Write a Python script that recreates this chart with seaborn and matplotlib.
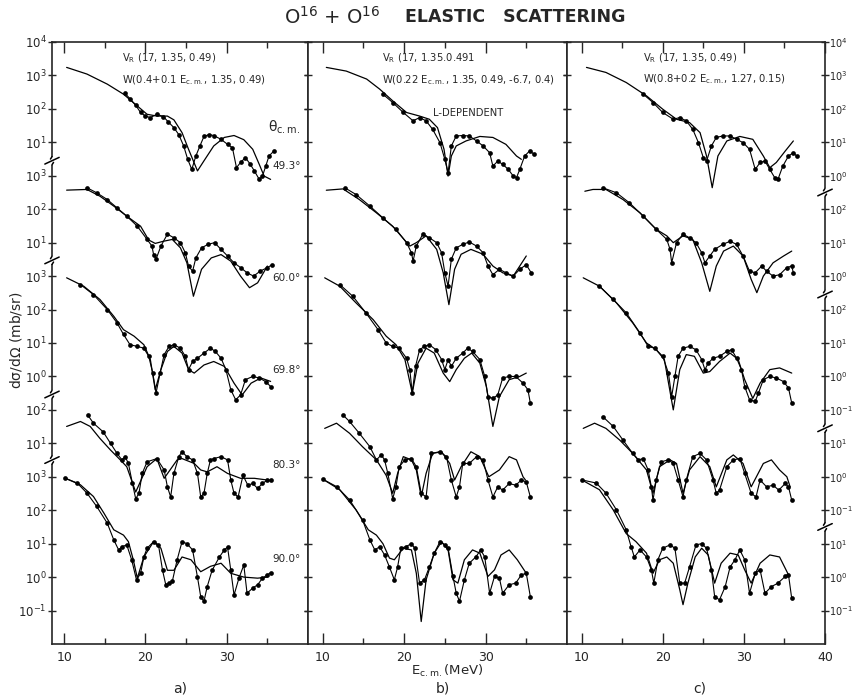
import numpy as np
import pandas as pd
import matplotlib
matplotlib.use("Agg")
import matplotlib.pyplot as plt
from matplotlib.ticker import NullLocator, FixedLocator
import seaborn as sns

# ---------------- data (E_cm in MeV, dsigma/dOmega in mb/sr) ----------------
# panel a
a49_thE = [10.3, 12.8, 15.3, 17.3, 19.0, 20.2, 21.4, 22.7, 23.5, 24.5, 25.3, 26.4, 27.2, 28.4, 29.7, 30.9, 32.1, 33.2, 34.0, 34.6, 35.4]
a49_th = [1740, 1100, 550, 275, 122, 69, 61, 61, 47, 19.5, 6.2, 1.4, 2.8, 7.8, 14, 16, 12, 6.2, 2.2, 0.98, 0.78]
a49_E = [17.5, 18.1, 18.8, 19.4, 20.0, 20.6, 21.4, 22.2, 22.8, 23.5, 24.1, 24.7, 25.2, 25.7, 26.2, 26.7, 27.2, 27.8, 28.4, 29.3, 30.1, 30.7, 31.2, 31.7, 32.3, 32.9, 33.4, 34.0, 34.4, 34.8, 35.2, 35.8]
a49_s = [290, 200, 128, 78, 61, 55, 69, 59, 41, 27.5, 17, 7.8, 3.1, 1.55, 3.9, 7.8, 15, 17, 16, 12.3, 8.7, 6.9, 1.75, 2.5, 3.5, 2.2, 1.4, 0.78, 0.98, 1.95, 3.9, 5.5]

a60_thE = [10.3, 12.8, 14.4, 16.1, 17.7, 19.4, 20.4, 21.2, 22.2, 23.3, 24.3, 25.1, 25.9, 26.9, 28.1, 29.3, 30.5, 31.7, 32.8, 33.8, 35.0]
a60_th = [372, 390, 245, 124, 62, 31, 12, 9.5, 11, 12.5, 7, 2.5, 0.25, 1.6, 3.5, 4.4, 2.8, 1.0, 0.45, 0.63, 2.0]
a60_E = [12.8, 14.0, 15.3, 16.5, 17.7, 19.0, 20.2, 20.8, 21.0, 21.3, 21.9, 22.7, 23.5, 24.3, 24.9, 25.3, 25.8, 26.2, 26.9, 27.7, 28.5, 29.3, 30.1, 30.9, 31.7, 32.5, 33.3, 34.1, 35.0, 35.6]
a60_s = [440, 310, 195, 110, 62, 31, 12.5, 7.9, 4.4, 3.2, 7.9, 18, 14, 10, 5, 2, 1.4, 3.5, 7, 8.9, 10, 6.3, 4, 2.5, 1.8, 1.26, 1.0, 1.4, 1.8, 2.2]

a70_thE = [10.3, 12.4, 14.4, 16.1, 17.3, 18.6, 19.8, 20.6, 21.2, 21.9, 22.7, 23.5, 24.5, 25.3, 26.0, 27.2, 28.4, 29.7, 30.9, 31.9, 33.0, 34.2, 35.4]
a70_th = [890, 500, 200, 63, 25, 16, 8.9, 3.2, 0.4, 1.6, 5.6, 7.9, 5, 1.6, 1.26, 2.2, 2.8, 2.0, 0.63, 0.28, 0.63, 0.9, 0.71]
a70_E = [12.0, 13.6, 15.3, 16.5, 17.3, 18.1, 19.0, 19.8, 20.4, 20.9, 21.3, 21.8, 22.3, 22.9, 23.5, 24.3, 24.9, 25.3, 25.8, 26.4, 27.2, 28.0, 28.6, 29.3, 29.9, 30.5, 31.1, 31.7, 32.3, 33.2, 34.0, 34.8, 35.4]
a70_s = [560, 280, 100, 40, 18, 8.9, 7.9, 7, 4, 1.26, 0.32, 1.26, 4.5, 7.9, 8.9, 7, 4, 1.6, 2.8, 3.5, 5, 7, 5.6, 3.5, 1.6, 0.4, 0.2, 0.28, 0.8, 1.0, 0.9, 0.7, 0.5]

a80_thE = [10.3, 12.0, 13.2, 14.4, 15.7, 16.9, 17.7, 18.8, 20.2, 21.4, 22.3, 23.9, 24.5, 26.0, 26.8, 27.6, 28.8, 30.1, 31.7, 33.4, 35.0]
a80_th = [32, 45, 32, 14, 6.3, 3.2, 2.0, 0.35, 2.0, 3.5, 0.9, 3.2, 3.5, 2.5, 1.6, 1.4, 2.0, 1.26, 0.9, 0.9, 0.8]
a80_E = [12.9, 13.6, 14.8, 15.7, 16.5, 17.1, 17.5, 17.9, 18.4, 18.8, 19.2, 19.6, 20.2, 21.4, 22.3, 22.7, 23.1, 23.5, 24.1, 24.5, 25.1, 25.8, 26.4, 26.8, 27.2, 27.6, 28.0, 28.4, 29.3, 30.1, 30.5, 30.9, 31.4, 32.0, 32.6, 33.2, 33.8, 34.4, 35.0, 35.5]
a80_s = [70, 40, 22, 10, 5, 3.2, 4, 2.5, 0.63, 0.22, 0.32, 1.26, 2.8, 3.5, 1.6, 0.5, 0.25, 1.26, 4, 5.6, 4, 3.2, 1.26, 0.25, 0.32, 1.26, 3.2, 3.5, 4, 3.2, 0.8, 0.32, 0.25, 1.1, 0.56, 0.63, 0.45, 0.63, 0.8, 0.78]

a90_thE = [10.1, 12.0, 13.6, 14.9, 16.1, 17.3, 17.9, 18.5, 19.0, 19.8, 21.0, 21.9, 22.7, 23.5, 24.5, 25.6, 26.8, 28.0, 29.3, 30.5, 32.1, 33.8, 35.0]
a90_th = [910, 575, 257, 81, 26, 18, 11.5, 3.3, 0.93, 4, 11.5, 7.3, 1.6, 1.6, 4, 3.3, 1.45, 2.1, 2.6, 1.3, 1.0, 0.93, 1.0]
a90_E = [10.1, 11.6, 12.8, 14.0, 15.3, 16.1, 16.7, 17.1, 17.7, 18.3, 18.9, 19.4, 19.8, 20.2, 21.0, 21.6, 22.1, 22.5, 22.9, 23.3, 23.9, 24.5, 25.1, 25.8, 26.4, 26.8, 27.2, 27.6, 28.2, 29.1, 29.7, 30.1, 30.5, 30.9, 31.5, 32.1, 32.5, 33.2, 33.8, 34.4, 35.0, 35.4]
a90_s = [910, 650, 325, 130, 41, 13, 6.5, 8.1, 9.2, 3.3, 0.82, 1.3, 4, 7.3, 11.5, 9.2, 1.6, 0.59, 0.66, 0.74, 3.3, 11.5, 10, 6.5, 1.0, 0.26, 0.19, 0.52, 1.6, 4, 6.5, 7.9, 1.6, 0.29, 0.93, 2.3, 0.33, 0.47, 0.59, 0.93, 1.17, 1.35]

# panel b
b49_thE = [10.45, 12.9, 15.4, 17.0, 18.6, 20.3, 21.9, 23.1, 24.1, 24.9, 25.4, 25.8, 26.4, 27.6, 29.3, 30.9, 32.5, 33.8, 34.4]
b49_th = [1740, 1350, 780, 390, 174, 78, 61, 49, 27.5, 6.2, 0.98, 3.9, 7.8, 11, 15, 14, 8.7, 3.9, 3.1]
b49_E = [17.4, 18.6, 19.9, 21.1, 21.9, 22.7, 23.5, 24.4, 25.0, 25.4, 25.8, 26.4, 27.2, 28.0, 28.9, 29.7, 30.5, 30.9, 31.5, 32.1, 32.8, 33.4, 33.8, 34.2, 34.8, 35.4, 36.0]
b49_s = [275, 155, 78, 44, 55, 44, 24.5, 9.8, 3.1, 1.23, 7.8, 15.5, 16, 15.5, 11, 7.8, 4.9, 1.95, 2.75, 2.2, 1.55, 0.98, 0.88, 1.55, 3.9, 5.5, 4.4]

b60_thE = [10.45, 12.5, 14.5, 16.6, 18.6, 20.7, 21.5, 22.7, 24.0, 24.8, 25.5, 26.2, 27.0, 28.2, 29.7, 30.9, 32.1, 33.4, 35.0]
b60_th = [370, 405, 195, 78, 31, 7.9, 10, 16, 6.3, 1.26, 0.14, 1.6, 4.5, 6.3, 4.5, 2, 1.26, 1.0, 4]
b60_E = [12.7, 14.1, 15.8, 17.4, 19.0, 20.3, 20.9, 21.1, 21.5, 22.3, 23.1, 24.0, 24.6, 25.0, 25.4, 25.8, 26.4, 27.2, 28.0, 28.9, 29.7, 30.3, 30.9, 31.7, 32.5, 33.4, 34.2, 35.0, 35.6]
b60_s = [440, 275, 124, 55, 25, 10, 5, 2.8, 7.9, 18, 14, 10, 5, 1.26, 0.5, 3.2, 7, 8.9, 10.5, 7.9, 5, 2, 1.1, 1.6, 1.26, 1.0, 1.6, 2.2, 1.26]

b70_thE = [10.25, 12.1, 14.1, 16.2, 17.8, 19.0, 20.1, 21.0, 21.7, 22.7, 23.7, 24.8, 25.6, 26.4, 27.4, 28.3, 29.3, 30.1, 30.9, 31.7, 32.9, 34.2, 35.0]
b70_th = [890, 500, 158, 50, 16, 8.9, 3.2, 0.32, 2.5, 7, 5, 1.26, 0.7, 1.6, 3.5, 5, 2.5, 0.5, 0.032, 0.25, 0.8, 1.0, 1.26]
b70_E = [12.1, 13.7, 15.3, 16.8, 17.8, 18.6, 19.4, 20.3, 20.7, 21.0, 21.4, 21.9, 22.5, 23.1, 23.9, 24.6, 25.0, 25.4, 25.8, 26.4, 27.2, 27.8, 28.4, 29.3, 29.9, 30.3, 30.9, 31.5, 32.1, 32.9, 33.7, 34.6, 35.2, 35.5]
b70_s = [560, 250, 80, 25, 10, 7.9, 7, 3.5, 1.6, 0.32, 2, 6.3, 7.9, 8.9, 6.3, 3.2, 1.6, 3.2, 2.0, 3.5, 5, 7, 5.6, 3.2, 1.0, 0.25, 0.22, 0.28, 0.9, 1.0, 1.0, 0.63, 0.4, 0.16]

b80_thE = [10.25, 11.7, 13.3, 14.9, 16.6, 17.8, 18.6, 19.2, 19.9, 20.9, 21.5, 22.1, 22.7, 23.5, 24.6, 25.6, 26.2, 27.0, 28.2, 29.3, 30.4, 31.7, 32.9, 33.8, 34.6, 34.9]
b80_th = [28, 40, 20, 7.9, 3.2, 1.1, 0.32, 1.26, 4, 3.2, 1.6, 0.25, 1.26, 5, 5.6, 2.5, 0.8, 2, 5.6, 4, 1.0, 1.6, 4, 3.2, 1.0, 0.8]
b80_E = [12.5, 13.3, 14.5, 15.8, 16.6, 17.2, 17.6, 18.0, 18.6, 19.0, 19.4, 20.1, 20.9, 21.5, 22.1, 22.7, 23.3, 24.4, 25.2, 25.8, 26.4, 26.8, 27.2, 28.0, 28.9, 29.7, 30.3, 30.9, 31.5, 32.1, 32.9, 33.7, 34.4, 35.0, 35.5]
b80_s = [70, 45, 20, 7.9, 3.2, 4.5, 3.2, 1.26, 0.22, 0.5, 2, 3.2, 3.5, 2, 0.32, 0.25, 5, 5.6, 4, 0.8, 0.25, 0.5, 2.5, 2.5, 4, 3.2, 0.8, 0.25, 0.5, 0.4, 0.63, 0.56, 0.8, 0.7, 0.25]

b90_thE = [10.0, 12.1, 14.1, 15.6, 16.6, 17.4, 18.2, 18.8, 19.9, 20.9, 21.5, 22.1, 22.7, 23.7, 24.6, 25.4, 26.0, 26.6, 27.4, 28.4, 29.3, 30.3, 31.1, 31.9, 32.9, 33.9, 35.0]
b90_th = [850, 410, 102, 26, 18, 10, 3.7, 3.3, 7.3, 6.5, 1.3, 0.047, 0.83, 5.2, 11.5, 6.5, 0.83, 0.66, 3.3, 6.5, 5.2, 1.05, 1.65, 4.6, 6.5, 3.3, 1.3]
b90_E = [10.0, 11.7, 13.3, 14.9, 15.8, 16.4, 17.0, 17.6, 18.2, 18.8, 19.2, 19.6, 20.2, 20.9, 21.3, 21.9, 22.5, 23.1, 23.7, 24.4, 25.0, 25.4, 26.0, 26.4, 26.8, 27.4, 28.0, 28.8, 29.4, 29.9, 30.5, 31.1, 31.7, 32.1, 32.9, 33.7, 34.4, 35.0, 35.5]
b90_s = [850, 510, 205, 51, 13, 6.5, 8.1, 4.6, 2.0, 0.83, 2.0, 7.3, 8.1, 10, 7.3, 0.66, 0.83, 2.0, 5.2, 11.5, 9.2, 7.3, 1.05, 0.33, 0.19, 0.83, 2.6, 4, 6.5, 4, 0.33, 1.05, 0.93, 0.33, 0.59, 0.66, 1.17, 1.3, 0.26]

# panel c
c49_thE = [10.6, 13.0, 15.5, 18.0, 20.0, 21.7, 23.3, 24.6, 25.4, 26.1, 26.8, 27.9, 29.5, 31.1, 32.4, 33.2, 34.0, 35.1, 36.1]
c49_th = [1740, 1230, 615, 245, 98, 49, 39, 19.5, 3.9, 0.44, 3.9, 11, 15, 12.3, 3.9, 1.75, 2.5, 5.5, 11]
c49_E = [17.6, 18.8, 20.0, 21.3, 22.1, 22.9, 23.7, 24.4, 25.0, 25.4, 26.0, 26.6, 27.4, 28.3, 29.1, 29.9, 30.7, 31.4, 32.0, 32.6, 33.2, 33.8, 34.2, 34.8, 35.5, 36.1, 36.5]
c49_s = [275, 155, 78, 49, 55, 44, 24.5, 9.8, 3.5, 2.75, 7.8, 14, 15.5, 15.5, 12.3, 9.8, 6.2, 1.55, 2.5, 2.75, 1.55, 0.88, 0.78, 1.95, 3.9, 4.9, 3.9]

c60_thE = [10.4, 11.4, 13.0, 15.1, 17.2, 19.2, 20.5, 21.3, 22.5, 23.7, 24.8, 25.8, 26.6, 27.5, 28.7, 29.9, 30.9, 31.6, 32.4, 33.6, 34.9, 35.9]
c60_th = [345, 390, 390, 195, 78, 25, 16, 10, 16, 12.5, 2.5, 0.35, 2, 5.6, 7.9, 4, 0.8, 0.32, 1.0, 2.5, 4, 5.6]
c60_E = [12.6, 14.3, 15.9, 17.6, 19.2, 20.5, 20.9, 21.1, 21.7, 22.5, 23.3, 24.1, 24.8, 25.2, 25.8, 26.4, 27.4, 28.3, 29.1, 29.9, 30.7, 31.4, 32.2, 32.8, 33.6, 34.4, 35.3, 35.9, 36.1]
c60_s = [440, 310, 155, 62, 25, 12.5, 6.3, 2.5, 10, 18, 14, 10, 5, 2.5, 4, 6.3, 8.9, 11, 8.9, 4, 1.4, 1.26, 2, 1.4, 1.0, 1.1, 1.8, 2, 1.26]

c70_thE = [10.2, 12.2, 14.3, 16.3, 18.0, 19.2, 20.2, 21.3, 22.1, 22.9, 23.9, 25.0, 25.8, 27.0, 28.3, 29.3, 30.1, 31.1, 32.0, 33.2, 34.4, 35.9]
c70_th = [890, 500, 158, 40, 10, 6.3, 3.2, 0.1, 1.6, 4.5, 4, 1.26, 1.4, 2.8, 5, 3.2, 0.8, 0.22, 0.63, 1.6, 1.8, 1.26]
c70_E = [12.2, 13.9, 15.5, 17.2, 18.2, 19.0, 20.0, 20.7, 21.1, 21.5, 21.9, 22.5, 23.3, 24.1, 24.8, 25.2, 25.6, 26.2, 27.0, 27.9, 28.5, 29.1, 29.7, 30.1, 30.7, 31.4, 31.8, 32.4, 33.2, 34.0, 34.9, 35.5, 35.9]
c70_s = [500, 200, 80, 20, 7.9, 7, 4, 1.26, 0.25, 1.0, 4, 7, 7.9, 6.3, 3.2, 1.6, 2.5, 3.5, 4, 5.6, 6.3, 3.5, 1.6, 0.5, 0.2, 0.18, 0.32, 0.8, 1.0, 0.9, 0.7, 0.45, 0.16]

c80_thE = [10.2, 11.6, 13.0, 14.7, 16.3, 18.0, 18.8, 19.6, 20.9, 21.7, 22.5, 23.3, 24.6, 25.8, 26.6, 27.9, 28.7, 29.9, 30.9, 32.4, 33.4, 34.4, 35.3, 35.7]
c80_th = [28, 40, 28, 12.5, 5, 1.6, 0.32, 2, 3.2, 2.5, 0.32, 1.6, 4, 2, 0.5, 3.2, 4.5, 2.5, 0.5, 2.5, 3.2, 1.6, 1.0, 0.5]
c80_E = [12.6, 13.9, 15.1, 16.3, 17.0, 17.6, 18.2, 18.6, 18.8, 19.2, 19.8, 20.7, 21.3, 21.9, 22.5, 22.9, 23.7, 24.6, 25.4, 26.2, 26.6, 27.0, 27.9, 28.7, 29.5, 30.1, 30.9, 31.5, 32.0, 32.8, 33.6, 34.3, 35.1, 35.5, 35.9]
c80_s = [63, 32, 12.5, 5, 3.2, 3.5, 1.6, 0.5, 0.2, 0.8, 2.8, 3.2, 2.5, 0.8, 0.25, 0.8, 4, 5, 3.2, 0.8, 0.32, 0.4, 2, 3.2, 3.5, 1.26, 0.32, 0.25, 0.8, 0.5, 0.56, 0.4, 0.63, 0.5, 0.2]

c90_thE = [10.0, 12.2, 13.9, 15.5, 16.7, 18.0, 18.8, 19.6, 20.5, 21.3, 22.1, 22.5, 23.1, 24.0, 24.8, 25.6, 26.4, 27.2, 28.3, 29.3, 30.1, 30.9, 32.0, 33.2, 34.4, 35.5]
c90_th = [810, 410, 102, 20, 11.5, 5.2, 1.3, 3.3, 4, 2.6, 0.42, 0.15, 0.66, 4, 7.3, 4.6, 0.66, 2.6, 5.2, 4.6, 1.65, 0.66, 2.6, 4.6, 4, 1.17]
c90_E = [10.0, 11.8, 13.0, 14.3, 15.5, 16.1, 16.5, 17.2, 18.0, 18.6, 18.9, 19.4, 20.0, 20.9, 21.5, 22.1, 22.7, 23.3, 24.1, 24.8, 25.4, 26.0, 26.4, 27.0, 27.7, 28.3, 28.9, 29.5, 30.1, 30.7, 31.4, 32.0, 32.6, 33.4, 34.2, 35.1, 35.5, 35.9]
c90_s = [810, 650, 325, 102, 26, 8.1, 4, 6.5, 4, 1.65, 0.66, 3.3, 7.3, 9.2, 7.3, 0.66, 0.66, 2.0, 9.2, 10, 7.3, 1.65, 0.26, 0.21, 0.52, 2.0, 3.3, 6.5, 3.3, 0.33, 1.3, 1.65, 0.33, 0.52, 0.66, 1.05, 1.17, 0.23]

angles = ["49.3°", "60.0°", "69.8°", "80.3°", "90.0°"]
decade_offsets = [14, 11, 8, 5, 2]          # stacking offset (decades) of each angle
left_groups = [(15, 18), (12, 14), (8, 11), (6, 7), (1, 5)]
right_groups = [(14, 18), (11, 13), (7, 10), (4, 6), (1, 3)]
left_breaks = [14.45, 11.47, 7.46, 5.5]
right_breaks = [13.5, 10.45, 6.45, 3.5]

panels = [
    [(a49_E, a49_s, a49_thE, a49_th), (a60_E, a60_s, a60_thE, a60_th), (a70_E, a70_s, a70_thE, a70_th),
     (a80_E, a80_s, a80_thE, a80_th), (a90_E, a90_s, a90_thE, a90_th)],
    [(b49_E, b49_s, b49_thE, b49_th), (b60_E, b60_s, b60_thE, b60_th), (b70_E, b70_s, b70_thE, b70_th),
     (b80_E, b80_s, b80_thE, b80_th), (b90_E, b90_s, b90_thE, b90_th)],
    [(c49_E, c49_s, c49_thE, c49_th), (c60_E, c60_s, c60_thE, c60_th), (c70_E, c70_s, c70_thE, c70_th),
     (c80_E, c80_s, c80_thE, c80_th), (c90_E, c90_s, c90_thE, c90_th)],
]

# ---------------- figure ----------------
sns.set_style("ticks")
plt.rcParams["font.family"] = ["DejaVu Sans"]
plt.rcParams["mathtext.default"] = "regular"

W, H = 854, 699
fig = plt.figure(figsize=(W / 100, H / 100), dpi=100)

def fx(px):
    return px / W

def fy(py):
    return 1 - py / H

top_px, bot_px = 42, 644
edges = [(52, 308), (308, 567), (567, 825)]
xlims = [(8.5, 40), (8.2, 40), (8.2, 40)]

axes = []
for i, (l, r) in enumerate(edges):
    ax = fig.add_axes([fx(l), fy(bot_px), (r - l) / W, (bot_px - top_px) / H])
    axes.append(ax)

def exp_label(k):
    return r"$10^{%d}$" % k

for i, ax in enumerate(axes):
    th_rows, dat_rows = [], []
    for j, (E, s, tE, ts) in enumerate(panels[i]):
        f = 10.0 ** decade_offsets[j]
        th_rows.append(pd.DataFrame({"E": tE, "y": np.array(ts) * f, "angle": angles[j]}))
        dat_rows.append(pd.DataFrame({"E": E, "y": np.array(s) * f, "angle": angles[j]}))
    th_df = pd.concat(th_rows, ignore_index=True)
    dat_df = pd.concat(dat_rows, ignore_index=True)

    sns.lineplot(data=th_df, x="E", y="y", units="angle", estimator=None, sort=False,
                 color="black", lw=0.9, ax=ax)
    sns.lineplot(data=dat_df, x="E", y="y", units="angle", estimator=None, sort=False,
                 color="black", lw=0.8, marker="o", markersize=3.4, markeredgewidth=0, ax=ax)

    ax.set_yscale("log")
    ax.set_ylim(1, 1e18)
    ax.set_xlim(*xlims[i])
    ax.set_xlabel("")
    ax.set_ylabel("")

    ax.yaxis.set_major_locator(FixedLocator([10.0 ** u for u in range(1, 19)]))
    ax.yaxis.set_minor_locator(NullLocator())
    ax.set_xticks([10, 20, 30, 40])
    ax.set_xticks([15, 25, 35], minor=True)
    if i < 2:
        ax.set_xticklabels(["10", "20", "30", ""])
    else:
        ax.set_xticklabels(["10", "20", "30", "40"])

    ax.tick_params(axis="x", which="major", direction="in", length=8, width=1.0,
                   top=True, bottom=True, labelsize=9, pad=5)
    ax.tick_params(axis="x", which="minor", direction="in", length=4, width=1.0,
                   top=True, bottom=True)
    ax.tick_params(axis="y", which="major", direction="inout", length=6, width=1.0,
                   left=True, right=True, labelleft=False, labelright=False,
                   labelsize=8.5, pad=1)
    for sp in ax.spines.values():
        sp.set_linewidth(1.2)
        sp.set_visible(True)

    if i == 0:
        labs = {}
        for (lo, hi), off in zip(left_groups, decade_offsets):
            for u in range(lo, hi + 1):
                labs[u] = exp_label(u - off)
        ax.set_yticklabels([labs[u] for u in range(1, 19)])
        ax.tick_params(axis="y", labelleft=True)
    if i == 2:
        labs = {}
        for (lo, hi), off in zip(right_groups, decade_offsets):
            for u in range(lo, hi + 1):
                labs[u] = exp_label(u - off)
        ax.set_yticklabels([labs[u] for u in range(1, 19)])
        ax.tick_params(axis="y", labelright=True, labelsize=7.0, pad=0)

def break_mark(ax, xpos, u):
    tr = ax.get_yaxis_transform()
    ax.plot([xpos, xpos], [10 ** (u - 0.12), 10 ** (u + 0.12)], color="white", lw=3,
            transform=tr, clip_on=False, zorder=5, solid_capstyle="butt")
    ax.plot([xpos - 0.028, xpos + 0.028], [10 ** (u - 0.1), 10 ** (u + 0.1)], color="black", lw=1.1,
            transform=tr, clip_on=False, zorder=6)
    ax.plot([xpos, xpos - 0.006], [10 ** (u + 0.12), 10 ** (u + 0.05)], color="black", lw=1.1,
            transform=tr, clip_on=False, zorder=6)
    ax.plot([xpos, xpos + 0.006], [10 ** (u - 0.12), 10 ** (u - 0.05)], color="black", lw=1.1,
            transform=tr, clip_on=False, zorder=6)

for u in left_breaks:
    break_mark(axes[0], 0.0, u)
for u in right_breaks:
    break_mark(axes[2], 1.0, u)

# ---------------- texts ----------------
fig.text(fx(380), fy(17), r"O$^{16}$ + O$^{16}$", ha="right", va="center", fontsize=14)
fig.text(fx(405), fy(17), "ELASTIC   SCATTERING", ha="left", va="center",
         fontsize=12.5, fontweight="bold")

ann = 7.2
fig.text(fx(122), fy(58), r"V$_{R}$ (17, 1.35, 0.49)", fontsize=ann, va="center")
fig.text(fx(122), fy(80), r"W(0.4+0.1 E$_{c.m.}$, 1.35, 0.49)", fontsize=ann, va="center")
fig.text(fx(382), fy(58), r"V$_{R}$ (17, 1.35.0.491", fontsize=ann, va="center")
fig.text(fx(382), fy(80), r"W(0.22 E$_{c.m.}$, 1.35, 0.49, -6.7, 0.4)", fontsize=ann, va="center")
fig.text(fx(433), fy(113), "L-DEPENDENT", fontsize=ann, va="center")
fig.text(fx(643), fy(58), r"V$_{R}$ (17, 1.35, 0.49)", fontsize=ann, va="center")
fig.text(fx(643), fy(79), r"W(0.8+0.2 E$_{c.m.}$, 1.27, 0.15)", fontsize=ann, va="center")

fig.text(fx(268), fy(127), r"$\theta_{c.m.}$", fontsize=10, va="center")
for lab, ypx in zip(angles, [166, 278, 370, 465, 559]):
    fig.text(fx(272), fy(ypx), lab, fontsize=7.5, va="center")

fig.text(fx(16), fy(340), r"d$\sigma$/d$\Omega$ (mb/sr)", rotation=90, ha="center", va="center", fontsize=10)
fig.text(fx(447), fy(671), r"E$_{c.m.}$(MeV)", ha="center", va="center", fontsize=9.5)
for lab, xpx in zip(["a)", "b)", "c)"], [180, 443, 700]):
    fig.text(fx(xpx), fy(689), lab, ha="center", va="center", fontsize=10)

fig.savefig("out.png", dpi=100)
